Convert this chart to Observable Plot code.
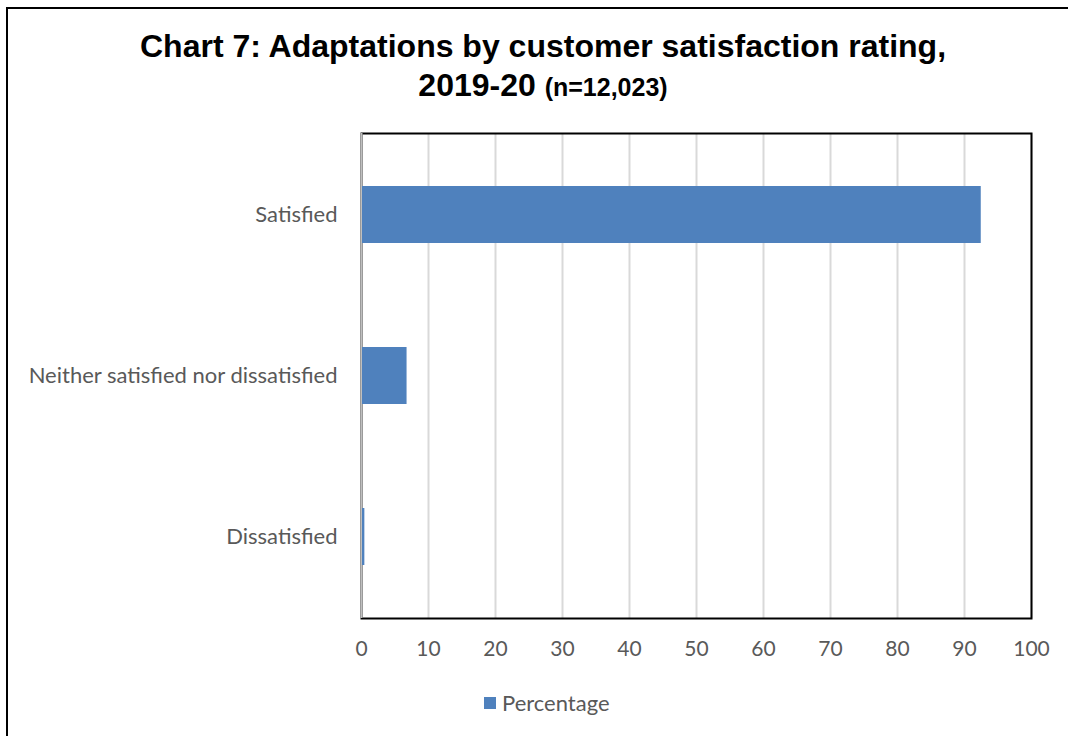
<!DOCTYPE html>
<html>
<head>
<meta charset="utf-8">
<script src="https://cdn.jsdelivr.net/npm/d3@7"></script>
<script src="https://cdn.jsdelivr.net/npm/@observablehq/plot@0.6"></script>
<style>
  html, body { margin: 0; padding: 0; background: #fff; }
  #wrap { position: relative; width: 1068px; height: 736px; overflow: hidden; }
  #border { position: absolute; left: 6px; top: 7px; width: 1100px; height: 800px; border-left: 2px solid #000; border-top: 2px solid #000; }
  .title { position: absolute; left: 0; width: 1086px; text-align: center; font-family: "Liberation Sans", Arial, sans-serif; font-weight: bold; color: #000; white-space: nowrap; }
  #t1 { top: 27px; font-size: 32px; line-height: 38px; }
  #t2 { top: 66px; font-size: 32px; line-height: 38px; }
  #t2 span { font-size: 25px; }
  #chart { position: absolute; left: 0; top: 100px; }
  #legend { position: absolute; top: 689px; left: 484px; font-family: Lato, "Open Sans", sans-serif; font-size: 22px; color: #595959; display: flex; align-items: center; white-space: nowrap; }
  #legend .sw { width: 12px; height: 12px; background: #4f81bd; margin-right: 6px; }
</style>
</head>
<body>
<div id="wrap">
  <div id="border"></div>
  <div class="title" id="t1">Chart 7: Adaptations by customer satisfaction rating,</div>
  <div class="title" id="t2">2019-20 <span>(n=12,023)</span></div>
  <div id="chart"></div>
  <div id="legend"><div class="sw"></div><span>Percentage</span></div>
</div>
<script>
const categories = ["Satisfied", "Neither satisfied nor dissatisfied", "Dissatisfied"];
const percentages = [92.5, 6.8, 0.5];
const xTicks = [0, 10, 20, 30, 40, 50, 60, 70, 80, 90, 100];
const seriesName = "Percentage";

const data = categories.map((c, i) => ({category: c, value: percentages[i]}));

const chart = Plot.plot({
  width: 1068,
  height: 560,
  marginLeft: 361,
  marginRight: 37,
  marginTop: 33,
  marginBottom: 42,
  style: {fontFamily: "Lato, 'Open Sans', sans-serif", fontSize: "22px", color: "#595959", background: "transparent", overflow: "visible"},
  x: {domain: [0, 100], ticks: xTicks, label: null},
  y: {domain: categories, paddingInner: 0.647, paddingOuter: 0.3235, align: 0.5, label: null},
  marks: [
    Plot.gridX(xTicks, {stroke: "#d9d9d9", strokeOpacity: 1, strokeWidth: 2}),
    Plot.frame({stroke: "#000", strokeWidth: 2}),
    Plot.ruleX([0], {stroke: "#bfbfbf", strokeWidth: 2}),
    Plot.barX(data, {x1: 0.15, x2: "value", y: "category", fill: "#4f81bd"}),
    Plot.axisX({ticks: xTicks, tickSize: 0, tickPadding: 23, label: null, fontSize: 21}),
    Plot.axisY({tickSize: 0, tickPadding: 24, label: null, fontSize: 22})
  ]
});
document.getElementById("chart").appendChild(chart);
</script>
</body>
</html>
